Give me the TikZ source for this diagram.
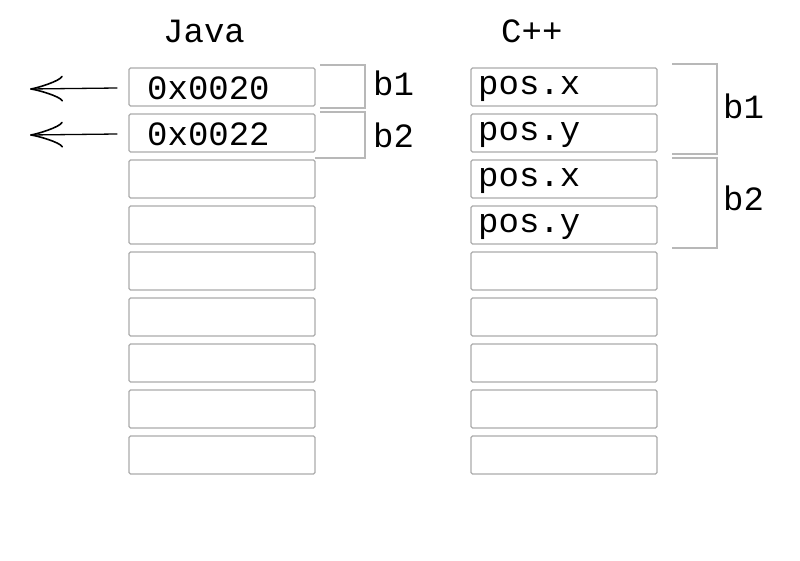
\documentclass[tikz,border=0pt]{standalone}
\usepackage{fontspec}
\setmonofont{Liberation Mono}
\usetikzlibrary{arrows.meta}
\begin{document}
\begin{tikzpicture}[x=1pt,y=-1pt,
  cell/.style={draw=black!33, line width=1.3pt, rounded corners=1.5pt,
    minimum width=186pt, minimum height=38pt, inner sep=0pt},
  txt/.style={font=\ttfamily\fontsize{34}{34}\selectfont, inner sep=0pt, anchor=base west},
  brace/.style={draw=black!28, line width=1.3pt},
  ptr/.style={draw=black, line width=1.3pt,
    -{Classical TikZ Rightarrow[length=33pt,width=26pt,line width=1.6pt]}}]
\useasboundingbox (0,0) rectangle (800,561);
% titles
\node[txt] (tj) at (163,43) {Java};
\node[txt] (tc) at (501,43) {C++};
% cells
\foreach \i in {1,...,9}{
  \node[cell] (j\i) at (222,{87+46*(\i-1)}) {};
  \node[cell] (c\i) at (564,{87+46*(\i-1)}) {};
}
% java texts
\node[txt] (v1) at (147,100) {0x0020};
\node[txt] (v2) at (147,146) {0x0022};
% c++ texts
\node[txt] (p1) at (478,95) {pos.x};
\node[txt] (p2) at (478,141) {pos.y};
\node[txt] (p3) at (478,187) {pos.x};
\node[txt] (p4) at (478,233) {pos.y};
% java brackets
\draw[brace] (320,65) -- (365,65) -- (365,108) -- (320,108);
\draw[brace] (320,112) -- (365,112) -- (365,158) -- (315,158);
\node[txt] (jb1) at (373,96) {b1};
\node[txt] (jb2) at (373,148) {b2};
% c++ brackets
\draw[brace] (672,64) -- (717,64) -- (717,154) -- (672,154);
\draw[brace] (672,158) -- (717,158) -- (717,248) -- (672,248);
\node[txt] (cb1) at (723,119) {b1};
\node[txt] (cb2) at (723,211) {b2};
% pointers
\coordinate (e1) at (30,89);
\coordinate (e2) at (30,135);
\draw[ptr] ([xshift=-11pt,yshift=-1pt]j1.west) -- (e1);
\draw[ptr] ([xshift=-11pt,yshift=-1pt]j2.west) -- (e2);
\end{tikzpicture}
\end{document}
